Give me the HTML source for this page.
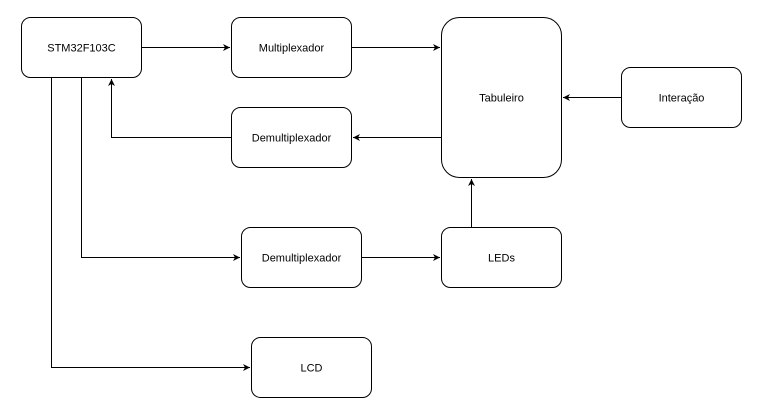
<!DOCTYPE html>
<html><head><meta charset="utf-8"><style>html,body{margin:0;padding:0;background:#fff}svg{display:block}</style></head>
<body>
<svg width="771" height="409" viewBox="0 0 771 409" xmlns="http://www.w3.org/2000/svg">
<defs><marker id="a" markerWidth="8" markerHeight="8" refX="7" refY="4" orient="auto" markerUnits="userSpaceOnUse"><path d="M0,0.5 L7,4 L0,7.5 L2,4 z" fill="#000"/></marker></defs>
<g fill="#fff" stroke="#000" stroke-width="1">
<rect x="21.5" y="17.5" width="120" height="60" rx="9"/>
<rect x="231.5" y="17.5" width="120" height="60" rx="9"/>
<rect x="231.5" y="107.5" width="120" height="60" rx="9"/>
<rect x="441.5" y="17.5" width="120" height="160" rx="18"/>
<rect x="621.5" y="67.5" width="120" height="60" rx="9"/>
<rect x="441.5" y="227.5" width="120" height="60" rx="9"/>
<rect x="241.5" y="227.5" width="120" height="60" rx="9"/>
<rect x="251.5" y="337.5" width="120" height="60" rx="9"/>
</g>
<g fill="none" stroke="#000" stroke-width="1">
<path d="M141.5 47.5H230" marker-end="url(#a)"/>
<path d="M351.5 47.5H440" marker-end="url(#a)"/>
<path d="M441.5 137.5H353" marker-end="url(#a)"/>
<path d="M231.5 137.5H111.5V79" marker-end="url(#a)"/>
<path d="M621.5 97.5H563" marker-end="url(#a)"/>
<path d="M471.5 227.5V179" marker-end="url(#a)"/>
<path d="M361.5 257.5H440" marker-end="url(#a)"/>
<path d="M81.5 77.5V257.5H240" marker-end="url(#a)"/>
<path d="M51.5 77.5V367.5H250" marker-end="url(#a)"/>
</g>
<g font-family="Liberation Sans, Arial, sans-serif" font-size="11" text-anchor="middle" fill="#000">
<text x="81.5" y="51.5">STM32F103C</text>
<text x="291.5" y="51.5">Multiplexador</text>
<text x="291.5" y="141.5">Demultiplexador</text>
<text x="501.5" y="101.5">Tabuleiro</text>
<text x="681.5" y="101.5">Interação</text>
<text x="501.5" y="261.5">LEDs</text>
<text x="301.5" y="261.5">Demultiplexador</text>
<text x="311.5" y="371.5">LCD</text>
</g>
</svg>
</body></html>
